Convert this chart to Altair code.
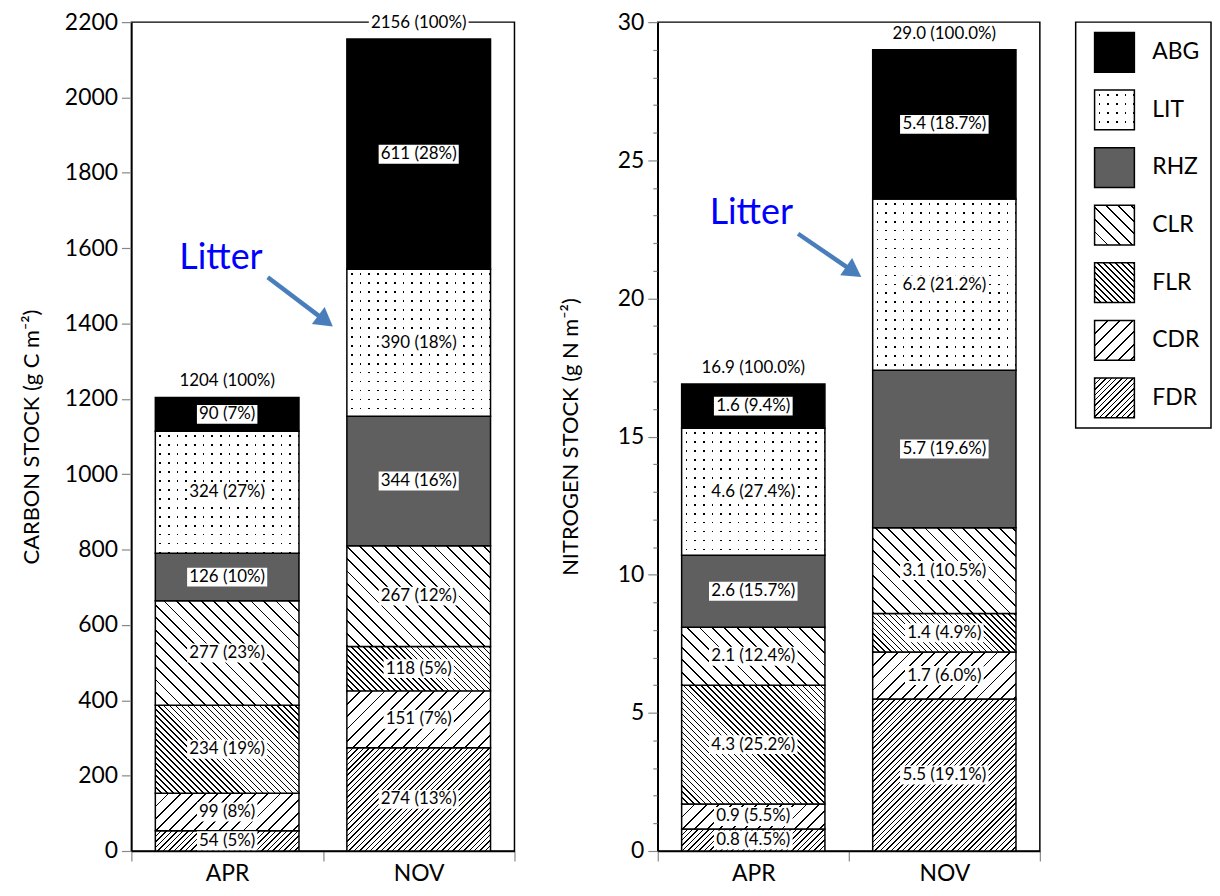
import math
import altair as alt
import pandas as pd

# ---------------- data ----------------
months = ["APR", "NOV"]
components = ["FDR", "CDR", "FLR", "CLR", "RHZ", "LIT", "ABG"]          # bottom -> top
legend_order = ["ABG", "LIT", "RHZ", "CLR", "FLR", "CDR", "FDR"]

carbon_apr = [54, 99, 234, 277, 126, 324, 90]
carbon_nov = [274, 151, 118, 267, 344, 390, 611]
carbon_pct_apr = [5, 8, 19, 23, 10, 27, 7]
carbon_pct_nov = [13, 7, 5, 12, 16, 18, 28]
carbon_totals = [1204, 2156]
carbon_total_pct = ["100", "100"]

nitrogen_apr = [0.8, 0.9, 4.3, 2.1, 2.6, 4.6, 1.6]
nitrogen_nov = [5.5, 1.7, 1.4, 3.1, 5.7, 6.2, 5.4]
nitrogen_pct_apr = [4.5, 5.5, 25.2, 12.4, 15.7, 27.4, 9.4]
nitrogen_pct_nov = [19.1, 6.0, 4.9, 10.5, 19.6, 21.2, 18.7]
nitrogen_totals = [16.9, 29.0]
nitrogen_total_pct = ["100.0", "100.0"]

carbon_ticks = list(range(0, 2201, 200))
nitrogen_ticks = list(range(0, 31, 1))

# annotation anchors: x in pixels inside the plot, y in data units
litter_left = {"text_x": 90, "text_y": 1573, "tail_x": 137, "tail_y": 1523, "tip_x": 200, "tip_y": 1397}
litter_right = {"text_x": 94, "text_y": 23.09, "tail_x": 141, "tail_y": 22.34, "tip_x": 202, "tip_y": 20.84}

# ---------------- style ----------------
FONT = "Lato"
PANEL_H = 833
W_LEFT = 385
W_RIGHT = 384
BAR_FRAC = 0.75
LABEL_FS = 17
ARROW_COLOR = "#4a7ebb"
TEXT_BLUE = "#0000ff"
RHZ_COLOR = "#5f5f5f"
# direction, horizontal spacing (px), line width (px)
HATCH = {
    "CLR": ("\\", 12.5, 1.3),
    "FLR": ("\\", 6.0, 1.05),
    "CDR": ("/", 12.5, 1.3),
    "FDR": ("/", 5.5, 1.05),
}
DOT_DX, DOT_DY, DOT_W = 8.7, 9.0, 1.7


def stripe_stops(period, width, line_color, bg_color, phase=0.0):
    stops = []
    a = phase - period
    while a < 1:
        for p, q, c in ((a, a + width, line_color), (a + width, a + period, bg_color)):
            p2, q2 = max(p, 0.0), min(q, 1.0)
            if q2 > p2:
                stops.append({"offset": round(p2, 5), "color": c})
                stops.append({"offset": round(q2, 5), "color": c})
        a += period
    return stops


def hatch_fill(W, H, direction, hspace, lw):
    L = W + H
    k = L / (W * W + H * H)
    period = hspace / L
    width = lw * math.sqrt(2) / L
    if direction == "/":
        x1, y1, x2, y2 = 0, 0, W * k, H * k
    else:
        x1, y1, x2, y2 = 0, 1, W * k, 1 - H * k
    return {"gradient": "linear", "x1": x1, "y1": y1, "x2": x2, "y2": y2,
            "stops": stripe_stops(period, width, "black", "white")}


def dots_under(W):
    return {"gradient": "linear", "x1": 0, "y1": 0, "x2": 1, "y2": 0,
            "stops": stripe_stops(DOT_DX / W, DOT_W / W, "black", "white", phase=4 / W)}


def dots_over(H):
    return {"gradient": "linear", "x1": 0, "y1": 0, "x2": 0, "y2": 1,
            "stops": stripe_stops(DOT_DY / H, DOT_W / H, "rgba(255,255,255,0)", "white", phase=4 / H)}


def fills_for(comp, W, H):
    """list of (fill, stroked) layers for a pattern"""
    if comp == "ABG":
        return [("black", True)]
    if comp == "RHZ":
        return [(RHZ_COLOR, True)]
    if comp == "LIT":
        return [(dots_under(W), False), (dots_over(H), True)]
    d, s, lw = HATCH[comp]
    return [(hatch_fill(W, H, d, s, lw), True)]


CW = {".": 0.25, " ": 0.2, "(": 0.3, ")": 0.3, "%": 0.8}


def text_width(s, fs=LABEL_FS):
    return sum(CW.get(c, 0.58) for c in s) * fs


def build_panel(vals, pcts, totals, total_pct, ymax, vfmt, pfmt, width, yaxis, ann):
    px = PANEL_H / ymax
    bw = width / 2 * BAR_FRAC
    rows = []
    for m, vs, ps in zip(months, vals, pcts):
        cum = 0.0
        for comp, v, p in zip(components, vs, ps):
            label = f"{vfmt.format(v)} ({pfmt.format(p)}%)"
            rows.append({"month": m, "comp": comp, "y0": cum, "y1": cum + v,
                         "mid": cum + v / 2, "label": label, "boxw": text_width(label) + 4})
            cum += v
    df = pd.DataFrame(rows)
    tot = pd.DataFrame({
        "month": months,
        "ty": [t + 16 / px for t in totals],
        "label": [f"{vfmt.format(t)} ({tp}%)" for t, tp in zip(totals, total_pct)],
    })
    tot["boxw"] = [text_width(s) + 4 for s in tot["label"]]

    yscale = alt.Scale(domain=[0, ymax], nice=False, zero=True)
    xenc = alt.X("month:N", scale=alt.Scale(domain=months, paddingInner=0, paddingOuter=0),
                 axis=alt.Axis(title=None, labelAngle=0, labelFontSize=23, labelPadding=2,
                               tickSize=10, tickBand="extent"))

    def Y(field):
        return alt.Y(field, scale=yscale, axis=yaxis)

    layers = []
    for r in rows:
        H = (r["y1"] - r["y0"]) * px
        for fill, stroked in fills_for(r["comp"], bw, H):
            mk = dict(fill=fill, width=alt.RelativeBandSize(BAR_FRAC))
            if stroked:
                mk.update(stroke="black", strokeWidth=1.5)
            else:
                mk.update(strokeWidth=0)
            layers.append(
                alt.Chart(df).transform_filter(
                    f"datum.month == '{r['month']}' && datum.comp == '{r['comp']}'"
                ).mark_bar(**mk).encode(x=xenc, y=Y("y0:Q"), y2="y1:Q")
            )
    # white label boxes and labels
    layers.append(alt.Chart(df).mark_tick(color="white", opacity=1, thickness=19).encode(
        x=xenc, y=Y("mid:Q"), size=alt.Size("boxw:Q", scale=None)))
    layers.append(alt.Chart(df).mark_text(font=FONT, fontSize=LABEL_FS, color="black", baseline="middle").encode(
        x=xenc, y=Y("mid:Q"), text="label:N"))
    layers.append(alt.Chart(tot).mark_tick(color="white", opacity=1, thickness=19).encode(
        x=xenc, y=Y("ty:Q"), size=alt.Size("boxw:Q", scale=None)))
    layers.append(alt.Chart(tot).mark_text(font=FONT, fontSize=LABEL_FS, color="black", baseline="middle").encode(
        x=xenc, y=Y("ty:Q"), text="label:N"))

    # "Litter" annotation
    dx = ann["tip_x"] - ann["tail_x"]
    dy = (ann["tail_y"] - ann["tip_y"]) * px
    L = math.hypot(dx, dy)
    ux, uy = dx / L, dy / L
    size = 450
    h = math.sqrt(3) / 2 * math.sqrt(size) / 2
    hx = ann["tip_x"] - h * ux
    hy = ann["tip_y"] + h * uy / px
    angle = (math.degrees(math.atan2(ux, -uy))) % 360
    adf = pd.DataFrame({"text_y": [ann["text_y"]], "tail_y": [ann["tail_y"]], "head_y": [hy],
                        "text": ["Litter"]})
    layers.append(alt.Chart(adf).mark_text(font=FONT, fontSize=36, color=TEXT_BLUE,
                                           baseline="middle", align="center").encode(
        x=alt.value(ann["text_x"]), y=Y("text_y:Q"), text="text:N"))
    layers.append(alt.Chart(adf).mark_rule(color=ARROW_COLOR, strokeWidth=4.5).encode(
        x=alt.value(ann["tail_x"]), x2=alt.value(hx), y=Y("tail_y:Q"), y2="head_y:Q"))
    layers.append(alt.Chart(adf).mark_point(shape="triangle", filled=True, size=size, angle=angle,
                                            color=ARROW_COLOR, opacity=1).encode(
        x=alt.value(hx), y=Y("head_y:Q")))

    return alt.layer(*layers).properties(width=width, height=PANEL_H)


left_axis = alt.Axis(values=carbon_ticks, format="d", title="CARBON STOCK (g C m⁻²)", titleFontSize=22,
                     labelFontSize=23, tickSize=10, labelPadding=4, titlePadding=21, grid=False)
right_axis = alt.Axis(values=nitrogen_ticks, title="NITROGEN STOCK (g N m⁻²)", titleFontSize=22,
                      labelFontSize=23, labelPadding=4, titlePadding=35, grid=False, labelOverlap=False,
                      labelExpr="datum.value % 5 === 0 ? datum.label : ''",
                      tickSize={"condition": {"test": "datum.value % 5 === 0", "value": 10}, "value": 5})

left = build_panel([carbon_apr, carbon_nov], [carbon_pct_apr, carbon_pct_nov], carbon_totals,
                   carbon_total_pct, 2200, "{:.0f}", "{:.0f}", W_LEFT, left_axis, litter_left)
right = build_panel([nitrogen_apr, nitrogen_nov], [nitrogen_pct_apr, nitrogen_pct_nov], nitrogen_totals,
                    nitrogen_total_pct, 30, "{:.1f}", "{:.1f}", W_RIGHT, right_axis, litter_right)

# ---------------- legend panel ----------------
LEG_W, LEG_H = 136, 408
leg_df = pd.DataFrame({"comp": legend_order})
yleg = alt.Y("comp:N", scale=alt.Scale(domain=legend_order, paddingInner=0.31, paddingOuter=0.18), axis=None)
leg_layers = []
for comp in legend_order:
    for fill, stroked in fills_for(comp, 40, 39.9):
        mk = dict(fill=fill)
        if stroked:
            mk.update(stroke="black", strokeWidth=1.5)
        else:
            mk.update(strokeWidth=0)
        leg_layers.append(alt.Chart(leg_df).transform_filter(f"datum.comp == '{comp}'").mark_rect(**mk).encode(
            x=alt.value(19), x2=alt.value(59), y=yleg))
leg_layers.append(alt.Chart(leg_df).mark_text(font=FONT, fontSize=23, color="black", align="left",
                                              baseline="middle").encode(
    x=alt.value(77), y=yleg, text="comp:N"))
legend = alt.layer(*leg_layers).properties(width=LEG_W, height=LEG_H)

chart = alt.hconcat(alt.hconcat(left, right, spacing=42), legend, spacing=33).properties(
    padding={"left": 11, "top": 0, "right": 0, "bottom": 0}
).configure_view(stroke="black", strokeWidth=1.5).configure_axis(
    labelFont=FONT, titleFont=FONT, labelColor="black", titleColor="black", titleFontWeight="normal",
    domainColor="black", domainWidth=1.5, tickColor="#888888", tickWidth=1.2, grid=False
).configure_title(font=FONT)

chart.save("out.html", embed_options={"renderer": "svg", "actions": False})
